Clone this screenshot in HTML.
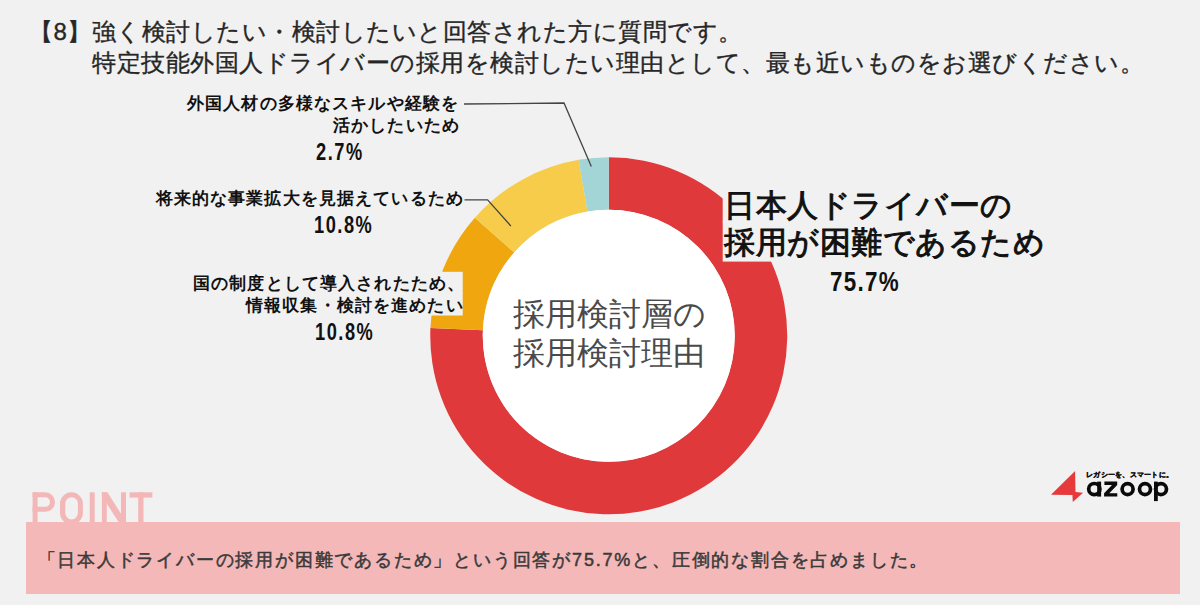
<!DOCTYPE html>
<html lang="ja">
<head>
<meta charset="utf-8">
<style>
html,body{margin:0;padding:0;}
body{width:1200px;height:605px;position:relative;overflow:hidden;background:#f1f1f1;font-family:"Liberation Sans",sans-serif;color:#222;}
.a{position:absolute;white-space:nowrap;line-height:1;}
.title{font-size:24px;font-weight:400;color:#262626;-webkit-text-stroke:0.35px #262626;letter-spacing:0.5px;}
.lbl{font-size:17px;font-weight:700;color:#111;letter-spacing:1.15px;}
.pct{font-family:"Liberation Sans",sans-serif;font-weight:700;color:#111;transform-origin:0 0;}
svg{position:absolute;left:0;top:0;}
.ptxt{font-size:18px;color:#3a3a3a;letter-spacing:1.8px;-webkit-text-stroke:0.5px #3a3a3a;}
.big{font-size:31px;font-weight:400;color:#111;letter-spacing:0.55px;-webkit-text-stroke:1px #111;}
</style>
</head>
<body>
<svg width="1200" height="605" viewBox="0 0 1200 605">
<path fill="#E0393B" d="M608.75 157.30A178.5 178.5 0 1 1 430.42 327.95L482.87 330.26A126 126 0 1 0 608.75 209.80Z"/>
<path fill="#F0A70F" d="M430.42 327.95A178.5 178.5 0 0 1 474.86 217.76L514.24 252.47A126 126 0 0 0 482.87 330.26Z"/>
<path fill="#F7CC4B" d="M474.86 217.76A178.5 178.5 0 0 1 578.61 159.86L587.48 211.61A126 126 0 0 0 514.24 252.47Z"/>
<path fill="#A3D5D6" d="M578.61 159.86A178.5 178.5 0 0 1 608.75 157.30L608.75 209.80A126 126 0 0 0 587.48 211.61Z"/>
<circle cx="608.75" cy="335.8" r="126" fill="#fff"/>
<rect x="191.4" y="271.8" width="271.3" height="22.2" fill="#f1f1f1"/>
<rect x="244.5" y="293" width="218.2" height="22.5" fill="#f1f1f1"/>
<rect x="722.7" y="185" width="287.5" height="37.5" fill="#f1f1f1"/>
<rect x="722.7" y="221.5" width="320.6" height="40.1" fill="#f1f1f1"/>
<polyline points="464,104 564,103 591.3,166.5" fill="none" stroke="#444" stroke-width="1.3"/>
<polyline points="464.5,199.8 487.6,199.8 510.8,226" fill="none" stroke="#444" stroke-width="1.3"/>
</svg>

<div class="a title" style="left:29px;top:20px;">【8】強く検討したい・検討したいと回答された方に質問です。</div>
<div class="a title" style="left:92px;top:50.5px;">特定技能外国人ドライバーの採用を検討したい理由として、最も近いものをお選びください。</div>

<div class="a lbl" style="left:187px;top:94.5px;">外国人材の多様なスキルや経験を</div>
<div class="a lbl" style="left:333px;top:117px;">活かしたいため</div>
<div class="a pct" style="left:315.6px;top:139.6px;font-size:24px;transform:scaleX(0.76);letter-spacing:2.0px;">2.7%</div>

<div class="a lbl" style="left:155.5px;top:190px;">将来的な事業拡大を見据えているため</div>
<div class="a pct" style="left:313.8px;top:213.4px;font-size:24px;transform:scaleX(0.76);letter-spacing:2.0px;">10.8%</div>

<div class="a lbl" style="left:193px;top:275px;">国の制度として導入されたため、</div>
<div class="a lbl" style="left:246px;top:296.5px;">情報収集・検討を進めたい</div>
<div class="a pct" style="left:315px;top:319.6px;font-size:24px;transform:scaleX(0.76);letter-spacing:2.0px;">10.8%</div>

<div class="a big" style="left:724px;top:190px;">日本人ドライバーの</div>
<div class="a big" style="left:724px;top:227px;">採用が困難であるため</div>
<div class="a pct" style="left:830.2px;top:267.75px;font-size:28px;transform:scaleX(0.8);letter-spacing:1.6px;">75.7%</div>

<div class="a" style="left:513px;top:298px;font-size:32px;font-weight:300;color:#4a4a4a;">採用検討層の</div>
<div class="a" style="left:513px;top:337px;font-size:32px;font-weight:300;color:#4a4a4a;">採用検討理由</div>

<svg width="1200" height="605" viewBox="0 0 1200 605">
<g fill="#f4b7b8">
<rect x="32.6" y="492.3" width="5" height="33"/>
<path d="M32.6 492.3H45.3A9.75 9.75 0 0 1 45.3 511.8H32.6V506.8H45.3A4.75 4.75 0 0 0 45.3 497.3H32.6Z"/>
<path fill-rule="evenodd" d="M60 503.75A11.45 11.45 0 0 1 82.9 503.75V512.95A11.45 11.45 0 0 1 60 512.95Z M65.3 503.5A6.3 6.3 0 0 1 77.9 503.5V513.1A6.3 6.3 0 0 1 65.3 513.1Z"/>
<rect x="89.7" y="492.3" width="5" height="33"/>
<rect x="101.9" y="492.3" width="4.9" height="33"/>
<rect x="121" y="492.3" width="5" height="33"/>
<path d="M101.9 492.3H107.4L126 521.5V525H120.5L101.9 496Z"/>
<rect x="129.6" y="492.3" width="22.8" height="5.3"/>
<rect x="138.2" y="492.3" width="5.3" height="33"/>
</g>
<path fill="#e5393b" d="M1075.1 470.9L1075.5 492.1L1083 492.8L1072.8 502L1072.4 495.1L1051 494.7Z"/>
<g fill="none" stroke="#0a0a0a" stroke-width="3.7">
<circle cx="1094.3" cy="489.1" r="5.6"/>
<circle cx="1127.6" cy="489.1" r="5.5"/>
<circle cx="1145" cy="489.1" r="5.5"/>
<circle cx="1161" cy="489.1" r="5.5"/>
</g>
<g fill="#0a0a0a">
<rect x="1097.2" y="481.6" width="3.9" height="15"/>
<rect x="1154" y="481.6" width="3.8" height="19.5"/>
<path d="M1104.4 481.6H1117.2V484.9L1109.3 493.3H1117.3V496.6H1104.1V493.3L1112 484.9H1104.4Z"/>
</g>
</svg>
<div class="a" style="left:1086px;top:470.5px;font-size:7px;font-weight:700;color:#111;letter-spacing:0.25px;-webkit-text-stroke:0.35px #111;">レガシーを、スマートに。</div>
<div class="a" style="left:26px;top:521.7px;width:1154px;height:72px;background:#f4b8b8;"></div>
<div class="a ptxt" style="left:37.5px;top:551px;">「日本人ドライバーの採用が困難であるため」という回答が75.7%と、圧倒的な割合を占めました。</div>

</body>
</html>
